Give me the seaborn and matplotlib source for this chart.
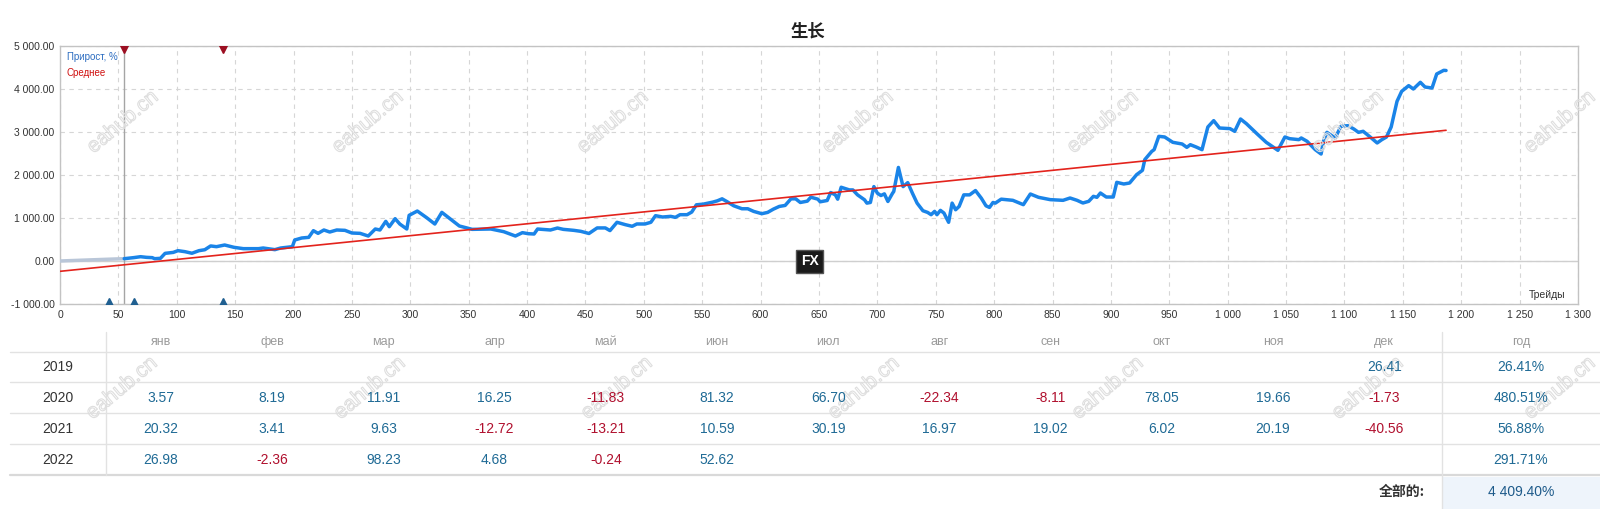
import matplotlib
matplotlib.use("Agg")
import matplotlib.pyplot as plt
import matplotlib.patheffects as pe
from matplotlib.ticker import FuncFormatter, MultipleLocator
import pandas as pd
import seaborn as sns

# === DATA ===
# flat grey start of the curve (before the first trade shown in blue)
start_x = [0, 20, 40, 55]
start_y = [0, 20, 40, 54]

# growth curve, % vs trade number
trade_x = [55, 63, 69, 74, 79, 81, 86, 90, 97, 101, 107, 113, 119, 124, 129, 134, 141, 149, 157, 170,
           174, 184, 189, 199, 201, 207, 213, 217, 221, 226, 231, 237, 244, 250, 257, 264, 270, 274, 279, 282,
           287, 291, 297, 299, 306, 314, 321, 327, 334, 342, 353, 369, 380, 390, 396, 401, 406, 409, 420, 426,
           431, 440, 446, 453, 460, 467, 471, 477, 484, 490, 494, 501, 506, 510, 516, 523, 527, 531, 537, 541,
           545, 551, 559, 563, 567, 571, 577, 584, 589, 594, 601, 606, 611, 616, 621, 626, 630, 634, 640, 643,
           649, 651, 657, 660, 664, 666, 669, 676, 679, 683, 689, 691, 694, 697, 700, 703, 706, 709, 713, 714,
           718, 722, 726, 730, 734, 739, 743, 746, 749, 751, 754, 757, 761, 764, 767, 770, 774, 779, 784, 789,
           793, 796, 799, 801, 806, 816, 825, 831, 838, 848, 859, 865, 871, 876, 881, 885, 888, 891, 896, 902,
           905, 911, 916, 922, 927, 929, 935, 937, 941, 946, 953, 961, 965, 968, 973, 978, 983, 988, 993, 1002,
           1006, 1011, 1016, 1025, 1033, 1043, 1049, 1053, 1061, 1063, 1068, 1075, 1080, 1082, 1085, 1092, 1097, 1103, 1108, 1112,
           1116, 1122, 1128, 1132, 1136, 1140, 1145, 1149, 1155, 1159, 1165, 1169, 1175, 1179, 1185, 1187]
growth = [54, 78, 100, 85, 78, 54, 62, 178, 200, 240, 217, 180, 240, 262, 350, 333, 372, 318, 287, 287,
          302, 264, 302, 333, 488, 535, 550, 705, 643, 721, 674, 721, 713, 651, 643, 581, 744, 721, 922, 798,
          984, 860, 744, 1062, 1162, 1007, 860, 1131, 984, 814, 736, 744, 682, 581, 659, 635, 628, 744, 721, 767,
          736, 713, 690, 640, 769, 769, 707, 900, 846, 807, 861, 861, 900, 1054, 1023, 1038, 1015, 1077, 1077, 1138,
          1307, 1323, 1369, 1400, 1446, 1384, 1284, 1215, 1215, 1154, 1100, 1130, 1207, 1269, 1292, 1446, 1446, 1361, 1392, 1484,
          1438, 1377, 1407, 1592, 1538, 1438, 1715, 1653, 1653, 1538, 1423, 1346, 1361, 1730, 1577, 1523, 1561, 1384, 1577, 1615,
          2176, 1730, 1822, 1577, 1346, 1169, 1130, 1077, 1154, 1077, 1177, 1115, 900, 1346, 1192, 1269, 1538, 1538, 1638, 1461,
          1284, 1246, 1361, 1346, 1438, 1411, 1310, 1558, 1481, 1427, 1411, 1465, 1411, 1349, 1388, 1504, 1481, 1581, 1488, 1488,
          1829, 1791, 1814, 2008, 2109, 2357, 2550, 2589, 2899, 2884, 2760, 2721, 2643, 2705, 2651, 2589, 3116, 3264, 3093, 3078,
          3016, 3302, 3194, 2961, 2760, 2574, 2884, 2845, 2822, 2861, 2783, 2589, 2488, 2783, 2992, 2861, 3132, 3147, 3070, 2992,
          3016, 2884, 2745, 2822, 2884, 3116, 3713, 3946, 4078, 4000, 4155, 4046, 4023, 4349, 4434, 4430]

# average (trend) line end points
avg_x = [0, 1187]
avg_y = [-240, 3040]

# event markers
top_marks_x = [55, 140]
bottom_marks_x = [42, 63, 140]
start_line_x = 55

# monthly table
months = ['янв', 'фев', 'мар', 'апр', 'май', 'июн', 'июл', 'авг', 'сен', 'окт', 'ноя', 'дек']
years = ['2019', '2020', '2021', '2022']
monthly = {
    '2019': [None] * 11 + [26.41],
    '2020': [3.57, 8.19, 11.91, 16.25, -11.83, 81.32, 66.70, -22.34, -8.11, 78.05, 19.66, -1.73],
    '2021': [20.32, 3.41, 9.63, -12.72, -13.21, 10.59, 30.19, 16.97, 19.02, 6.02, 20.19, -40.56],
    '2022': [26.98, -2.36, 98.23, 4.68, -0.24, 52.62] + [None] * 6,
}
yearly = [26.41, 480.51, 56.88, 291.71]
total = 4409.40

# === STYLE ===
sns.set_style("white")
plt.rcParams['font.family'] = ['Liberation Sans', 'Noto Sans CJK SC']
BLUE = '#1a84e8'
RED = '#e3231c'
POS = '#1f6a95'
NEG = '#b0102e'
W, H = 1600, 509

fig = plt.figure(figsize=(16, 5.09), dpi=100)

# background axes in pixel units for the table and titles
bg = fig.add_axes([0, 0, 1, 1], zorder=0)
bg.set_xlim(0, W)
bg.set_ylim(H, 0)
bg.axis('off')

# === CHART ===
ax = fig.add_axes([60 / W, 1 - 304 / H, 1518 / W, 258 / H], zorder=1)
df_start = pd.DataFrame({'x': start_x, 'y': start_y})
df_growth = pd.DataFrame({'x': trade_x, 'y': growth})
df_avg = pd.DataFrame({'x': avg_x, 'y': avg_y})

sns.lineplot(data=df_start, x='x', y='y', ax=ax, color='#b9c6d8', linewidth=2.5, sort=False, estimator=None, zorder=3)
sns.lineplot(data=df_growth, x='x', y='y', ax=ax, color=BLUE, linewidth=2.5, sort=False, estimator=None, zorder=4)
sns.lineplot(data=df_avg, x='x', y='y', ax=ax, color=RED, linewidth=1.2, sort=False, estimator=None, zorder=5)

ax.axvline(start_line_x, color='#a5a5a5', linewidth=1, zorder=2)
ax.axhline(0, color='#cfcfcf', linewidth=1, zorder=1)
ax.plot(top_marks_x, [5000] * len(top_marks_x), 'v', color='#9c0f22', markersize=10, zorder=6)
ax.plot(bottom_marks_x, [-1000] * len(bottom_marks_x), '^', color='#1f5f90', markersize=9, zorder=6)

ax.set_xlim(0, 1300)
ax.set_ylim(-1000, 5000)
ax.xaxis.set_major_locator(MultipleLocator(50))
ax.yaxis.set_major_locator(MultipleLocator(1000))
ax.xaxis.set_major_formatter(FuncFormatter(lambda v, p: f"{int(v):,}".replace(",", " ")))
ax.yaxis.set_major_formatter(FuncFormatter(lambda v, p: f"{v:,.2f}".replace(",", " ")))
ax.tick_params(length=0, labelsize=7.5, colors='#333333', pad=4)
ax.grid(True, color='#d6d6d6', linestyle=(0, (4, 4)), linewidth=0.8)
for s in ax.spines.values():
    s.set_color('#c3c3c3')
    s.set_linewidth(1)
ax.set_xlabel('')
ax.set_ylabel('')

ax.text(0.0046, 0.957, 'Прирост, %', transform=ax.transAxes, color='#2b6cc0', fontsize=7, va='center')
ax.text(0.0046, 0.895, 'Среднее', transform=ax.transAxes, color='#d01010', fontsize=7, va='center')
ax.text(0.992, 0.035, 'Трейды', transform=ax.transAxes, color='#333333', fontsize=7.5, ha='right', va='center')

# FX logo
ax.text(642, -10, 'FX', color='white', fontsize=10, fontweight='bold', ha='center', va='center', zorder=7,
        bbox=dict(boxstyle='square,pad=0.35', facecolor='#1a1a1a', edgecolor='#555555'))

# title
bg.text(808, 31, '生长', fontsize=12.5, fontweight='bold', ha='center', va='center',
        family=['Noto Sans CJK SC'], color='#222222')

# === TABLE ===
col_x = [161 + i * 111.2 for i in range(12)]
year_col_x = 1521
row_y = [367, 398, 429, 460]
line_y = [352, 382, 413, 444]

for m, cx in zip(months, col_x):
    bg.text(cx, 342, m, ha='center', va='center', fontsize=9, color='#9a9a9a')
bg.text(year_col_x, 342, 'год', ha='center', va='center', fontsize=9, color='#9a9a9a')

for ly in line_y:
    bg.plot([10, W], [ly, ly], color='#e2e2e2', linewidth=1)
bg.plot([10, W], [475, 475], color='#d9d9d9', linewidth=1.6)
bg.plot([106, 106], [332, 475], color='#e2e2e2', linewidth=1)
bg.plot([1442, 1442], [332, H], color='#e2e2e2', linewidth=1)

bg.fill_between([1443, W], 477, H, color='#eef4fb', linewidth=0)

# === WATERMARKS (hollow outlines, drawn under the table text) ===
wm = fig.add_axes([0, 0, 1, 1], zorder=8)
wm.set_xlim(0, W)
wm.set_ylim(H, 0)
wm.axis('off')
wm.patch.set_alpha(0)
for wy, xs in [(122, [123, 368, 613, 858, 1103, 1348, 1560]), (388, [122, 370, 617, 864, 1108, 1368, 1560])]:
    for wx in xs:
        wm.text(wx, wy, 'eahub.cn', rotation=40, ha='center', va='center', fontsize=15,
                color='none', path_effects=[pe.withStroke(linewidth=0.8, foreground='#dedede')])

# table texts on top of watermarks
tt = fig.add_axes([0, 0, 1, 1], zorder=9)
tt.set_xlim(0, W)
tt.set_ylim(H, 0)
tt.axis('off')
tt.patch.set_alpha(0)
for yr, ry, yv in zip(years, row_y, yearly):
    tt.text(58, ry, yr, ha='center', va='center', fontsize=10, color='#333333')
    for v, cx in zip(monthly[yr], col_x):
        if v is None:
            continue
        tt.text(cx, ry, f"{v:.2f}", ha='center', va='center', fontsize=10, color=POS if v >= 0 else NEG)
    tt.text(year_col_x, ry, f"{yv:.2f}%", ha='center', va='center', fontsize=10,
            color=POS if yv >= 0 else NEG)

tt.text(1425, 492, '全部的:', ha='right', va='center', fontsize=10, fontweight='bold', color='#333333',
        family=['Noto Sans CJK SC'])
tt.text(year_col_x, 492, f"{total:,.2f}%".replace(",", " "), ha='center', va='center', fontsize=10, color='#1d5a8a')

fig.savefig('out.png', dpi=100)
